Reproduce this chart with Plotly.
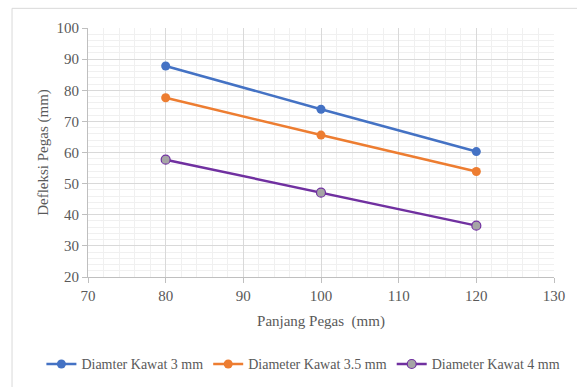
import plotly.graph_objects as go

x_vals = [80, 100, 120]
d3 = [87.8, 73.9, 60.3]
d35 = [77.6, 65.6, 53.9]
d4 = [57.7, 47.1, 36.5]
names = ["Diamter Kawat 3 mm", "Diameter Kawat 3.5 mm", "Diameter Kawat 4 mm"]

font_fam = "Liberation Serif"
txt = "#595959"

fig = go.Figure()
fig.add_trace(go.Scatter(x=x_vals, y=d3, name=names[0], mode="lines+markers",
                         line=dict(color="#4472C4", width=2.5),
                         marker=dict(color="#4472C4", size=9)))
fig.add_trace(go.Scatter(x=x_vals, y=d35, name=names[1], mode="lines+markers",
                         line=dict(color="#ED7D31", width=2.5),
                         marker=dict(color="#ED7D31", size=9)))
fig.add_trace(go.Scatter(x=x_vals, y=d4, name=names[2], mode="lines+markers",
                         line=dict(color="#7030A0", width=2.5),
                         marker=dict(color="#A5A5A5", size=9, line=dict(color="#7030A0", width=1.2))))

grid = "#D9D9D9"
minor_grid = "#F0F0F0"
fig.update_xaxes(range=[70, 130], dtick=10, tick0=70, showgrid=True, gridcolor=grid, gridwidth=1,
                 minor=dict(dtick=2, showgrid=True, gridcolor=minor_grid, gridwidth=1),
                 showline=True, linecolor="#BFBFBF", linewidth=1, ticks="outside", ticklen=5,
                 tickcolor="#BFBFBF", zeroline=False,
                 tickfont=dict(family=font_fam, size=15, color=txt),
                 title=dict(text="Panjang Pegas  (mm)", font=dict(family=font_fam, size=15, color=txt), standoff=12))
fig.update_yaxes(range=[20, 100], dtick=10, showgrid=True, gridcolor=grid, gridwidth=1,
                 minor=dict(dtick=2, showgrid=True, gridcolor=minor_grid, gridwidth=1),
                 showline=True, linecolor="#BFBFBF", linewidth=1, ticks="outside", ticklen=5,
                 tickcolor="#BFBFBF", zeroline=False,
                 tickfont=dict(family=font_fam, size=15, color=txt),
                 title=dict(text="Defleksi Pegas (mm)", font=dict(family=font_fam, size=15, color=txt), standoff=4))

fig.add_shape(type="rect", xref="paper", yref="paper", x0=-0.163, x1=1.2, y0=-0.6, y1=1.079,
              line=dict(color="#D9D9D9", width=1), layer="below")

fig.update_layout(
    width=577, height=387,
    font=dict(family=font_fam, color=txt),
    margin=dict(l=88, r=23, t=28, b=110, autoexpand=False),
    plot_bgcolor="white", paper_bgcolor="white",
    showlegend=True,
    legend=dict(orientation="h", x=-0.1, xanchor="left", y=-0.351, yanchor="middle",
                font=dict(family=font_fam, size=14, color=txt), itemwidth=30,
                tracegroupgap=0),
)

fig.write_html("out.html")
